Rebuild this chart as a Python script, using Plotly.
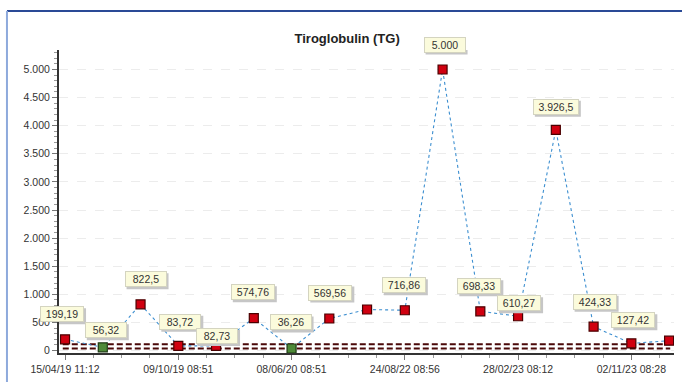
import plotly.graph_objects as go

# ---- data ----
values = [199.19, 56.32, 822.5, 83.72, 82.73, 574.76, 36.26, 569.56, 730,
          716.86, 5000, 698.33, 610.27, 3926.5, 424.33, 127.42, 175]
labelled = [True, True, True, True, True, True, True, True, False,
            True, True, True, True, True, True, True, False]
in_range = [False, True, False, False, False, False, True, False, False,
            False, False, False, False, False, False, False, False]
tick_positions = [0, 3, 6, 9, 12, 15]
tick_labels = ["15/04/19 11:12", "09/10/19 08:51", "08/06/20 08:51",
               "24/08/22 08:56", "28/02/23 08:12", "02/11/23 08:28"]
ref_lines = [110, 35]
title = "Tiroglobulin (TG)"

# ---- styling ----
label_offsets = [(-3, -25), (3, -17), (5, -25), (2, -24), (1, -10), (-1, -26),
                 (-1, -26), (1, -26), (0, -25), (-1, -25), (2, -25), (-1, -25),
                 (1, -13), (0, -23), (1, -25), (2, -23), (0, -25)]
X_RANGE = [-0.16, 16.13]
Y_RANGE = [-44, 5347]
BOX_H = 12


def fmt(v):
    s = f"{v:,.2f}".rstrip("0").rstrip(".")
    return s.replace(",", "X").replace(".", ",").replace("X", ".")


x = list(range(len(values)))
fill = ["#4e8a38" if f else "#d00010" for f in in_range]
edge = ["#1e3a14" if f else "#4a0000" for f in in_range]

fig = go.Figure()
for ref in ref_lines:
    fig.add_trace(go.Scatter(x=[X_RANGE[0] + 0.1, X_RANGE[1] - 0.1], y=[ref, ref],
                             mode="lines",
                             line=dict(color="#4a0808", width=2, dash="6px,3px"),
                             hoverinfo="skip", showlegend=False))
fig.add_trace(go.Scatter(
    x=x, y=values, mode="lines+markers",
    line=dict(color="#3d8fd0", width=1.1, dash="dot"),
    marker=dict(symbol="square", size=9, color=fill,
                line=dict(color=edge, width=1.2)),
    showlegend=False))

for i, v in enumerate(values):
    if not labelled[i]:
        continue
    ax, ay = label_offsets[i]
    txt = fmt(v)
    w = 28 + 2 * len(txt)
    tw, th = w + 4, BOX_H + 4
    # drop shadow (pixel-sized shape anchored at the point)
    fig.add_shape(type="rect", xref="x", yref="y", xsizemode="pixel",
                  ysizemode="pixel", xanchor=i, yanchor=v,
                  x0=ax - tw / 2 + 2, x1=ax + tw / 2 + 2,
                  y0=-ay - th / 2 - 2, y1=-ay + th / 2 - 2,
                  fillcolor="#c6c6c6", line=dict(width=0), layer="above")
    fig.add_annotation(x=i, y=v, text=txt, showarrow=True,
                       arrowcolor="rgba(0,0,0,0)", ax=ax, ay=ay,
                       width=w, height=BOX_H,
                       font=dict(family="Liberation Sans", size=10.5, color="#333"),
                       bgcolor="#fbfbdc", bordercolor="#d4d4c0", borderwidth=1,
                       borderpad=1)

# frame
fig.add_shape(type="line", xref="paper", yref="paper", x0=-0.0846, x1=1.02,
              y0=1.1287, y1=1.1287, line=dict(color="#2a4a96", width=2))
fig.add_shape(type="line", xref="paper", yref="paper", x0=-0.0846, x1=-0.0846,
              y0=1.1287, y1=-0.12, line=dict(color="#8eaadc", width=2))

fig.update_layout(
    width=682, height=382,
    margin=dict(l=59, r=8, t=50, b=29),
    paper_bgcolor="white", plot_bgcolor="white",
    separators=",.",
    title=dict(text=f"<b>{title}</b>", x=0.509, xanchor="center",
               y=0.9005, yanchor="middle",
               font=dict(family="Liberation Sans", size=13, color="#222")),
    font=dict(family="Liberation Sans", size=11, color="#333"),
)
fig.update_xaxes(range=X_RANGE, tickmode="array", tickvals=tick_positions,
                 ticktext=tick_labels, showgrid=False, zeroline=False,
                 showline=True, linecolor="#333", linewidth=2,
                 ticks="outside", ticklen=5, tickcolor="#777",
                 minor=dict(tickmode="linear", tick0=0, dtick=0.75,
                            ticks="outside", ticklen=3, tickcolor="#999",
                            showgrid=False),
                 tickfont=dict(size=10.5, color="#333"))
fig.update_yaxes(range=Y_RANGE, dtick=500, tick0=0, tickformat=",d",
                 showgrid=True, gridcolor="#ececec", griddash="dash",
                 zeroline=False, showline=True, linecolor="#333", linewidth=2,
                 ticks="outside", ticklen=5, tickcolor="#777",
                 minor=dict(dtick=100, ticks="outside", ticklen=3,
                            tickcolor="#999", showgrid=False),
                 tickfont=dict(size=10.5, color="#333"))

fig.write_html("out.html", config={"displayModeBar": False},
               post_script="document.body.style.margin='0';"
                           "document.body.style.overflow='hidden';")
